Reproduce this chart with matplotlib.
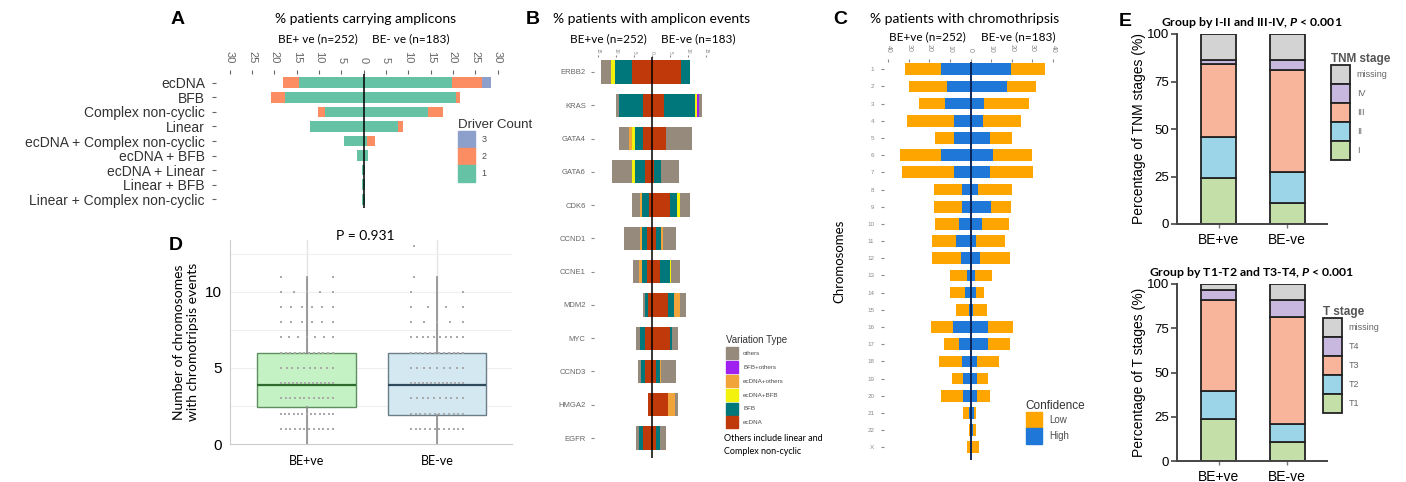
import matplotlib.pyplot as plt
import matplotlib.patches as mpatches
import numpy as np

plt.rcParams['font.family'] = ['Liberation Sans', 'DejaVu Sans']
plt.rcParams['mathtext.fontset'] = 'custom'
plt.rcParams['mathtext.it'] = 'Lato:italic:bold'
plt.rcParams['mathtext.rm'] = 'Lato:bold'

W, H = 1406, 482

# ---- Panel A: % patients carrying amplicons ----
amp_types = ["ecDNA", "BFB", "Complex non-cyclic", "Linear", "ecDNA + Complex non-cyclic",
             "ecDNA + BFB", "ecDNA + Linear", "Linear + BFB", "Linear + Complex non-cyclic"]
driver_levels = ["1", "2", "3"]
amp_pos_1 = [14.4, 17.6, 8.7, 12.1, 4.3, 1.6, 0.3, 0.3, 0.3]
amp_pos_2 = [3.6, 3.1, 1.5, 0, 0, 0, 0, 0, 0]
amp_pos_3 = [0, 0, 0, 0, 0, 0, 0, 0, 0]
amp_neg_1 = [19.7, 20.7, 14.4, 7.6, 0.8, 1.0, 0.4, 0.4, 0.4]
amp_neg_2 = [6.8, 0.8, 3.3, 1.3, 1.8, 0, 0, 0, 0]
amp_neg_3 = [2.0, 0, 0, 0, 0, 0, 0, 0, 0]

# ---- Panel B: % patients with amplicon events (per gene) ----
genes = ["ERBB2", "KRAS", "GATA4", "GATA6", "CDK6", "CCND1", "CCNE1", "MDM2", "MYC", "CCND3", "HMGA2", "EGFR"]
var_types = ["ecDNA", "BFB", "ecDNA+BFB", "ecDNA+others", "BFB+others", "others"]
b_pos_ecdna = [5.6, 2.4, 2.6, 1.85, 0.8, 1.4, 1.4, 1.1, 2.0, 2.0, 1.1, 2.5]
b_pos_bfb = [4.6, 6.7, 2.1, 2.8, 1.9, 1.3, 1.4, 0.9, 1.4, 0.9, 0, 1.1]
b_pos_ecdna_bfb = [1.2, 0, 0.75, 0.9, 0, 0, 0, 0, 0, 0, 0, 0]
b_pos_ecdna_oth = [0, 0, 0.9, 0, 0.65, 0.55, 0.65, 0, 0, 0, 0, 0]
b_pos_bfb_oth = [0, 0, 0, 0, 0, 0, 0, 0, 0, 0, 0, 0]
b_pos_others = [2.7, 0.7, 2.8, 5.4, 2.3, 4.5, 1.85, 0.45, 1.1, 1.1, 0, 0.9]
b_neg_ecdna = [8.0, 3.3, 3.9, 0.65, 4.9, 1.2, 2.1, 4.4, 4.9, 1.2, 4.4, 1.2]
b_neg_bfb = [2.4, 8.6, 0, 1.7, 2.0, 1.4, 2.8, 1.6, 0.75, 0.9, 0, 0.9]
b_neg_ecdna_bfb = [0, 0.5, 0, 0, 0.7, 0, 0.45, 0, 0, 0, 0, 0]
b_neg_ecdna_oth = [0, 0, 0, 0, 0, 0.45, 0, 1.85, 0, 0.45, 1.85, 0]
b_neg_bfb_oth = [0, 0.7, 0, 0, 0, 0, 0, 0, 0, 0, 0, 0]
b_neg_others = [0, 0.7, 7.1, 5.1, 2.8, 3.5, 2.3, 1.65, 1.6, 4.0, 0.9, 1.65]

# ---- Panel C: % patients with chromothripsis ----
chroms = [str(i) for i in range(1, 23)] + ["X"]
c_pos_high = [14.1, 11.2, 12.5, 7.9, 7.9, 14.1, 7.9, 3.9, 3.9, 5.7, 6.8, 4.4, 1.9, 2.75, 0.8, 8.4, 5.7, 3.9, 3.6, 3.6, 0.8, 0.3, 0.3]
c_pos_low = [17.8, 18.6, 12.6, 22.8, 9.4, 20.2, 25.6, 13.9, 13.9, 11.6, 11.8, 14.2, 8.1, 7.25, 6.0, 10.9, 7.2, 11.3, 5.6, 10.5, 2.8, 0.2, 1.6]
c_neg_high = [19.9, 17.5, 6.6, 6.1, 9.4, 10.7, 9.7, 3.7, 9.9, 5.7, 2.6, 4.7, 2.4, 2.9, 1.3, 8.6, 8.6, 3.2, 3.2, 3.2, 1.6, 1.0, 0.2]
c_neg_low = [16.2, 14.1, 21.9, 18.2, 10.8, 19.2, 20.7, 16.5, 9.7, 12.9, 14.1, 14.7, 7.8, 3.7, 6.8, 11.8, 10.8, 10.6, 5.1, 6.5, 1.3, 1.6, 4.0]

# ---- Panel D: chromosomes with chromothripsis events ----
d_groups = ["BE+ve", "BE-ve"]
d_q1 = [2.4, 1.9]
d_med = [3.9, 3.9]
d_q3 = [6.0, 6.0]
d_whislo = [0.0, 0.0]
d_whishi = [11.0, 11.0]
d_levels = [1, 2, 3, 4, 5, 6, 7, 8, 9, 10, 11, 13]
d_pos_counts = [12, 13, 12, 14, 10, 12, 7, 6, 6, 5, 2, 0]
d_neg_counts = [12, 12, 10, 14, 9, 12, 10, 5, 4, 2, 1, 1]
d_pvalue = "P = 0.931"

# ---- Panel E: stage distribution ----
e_groups = ["BE+ve", "BE-ve"]
tnm_stages = ["I", "II", "III", "IV", "missing"]
tnm_pos = [24.1, 21.8, 38.3, 2.1, 13.7]
tnm_neg = [11.2, 16.4, 53.2, 5.5, 13.7]
t_stages = ["T1", "T2", "T3", "T4", "missing"]
t_pos = [24.0, 15.7, 51.0, 5.7, 3.6]
t_neg = [11.0, 9.8, 60.8, 9.1, 9.3]


def px_axes(fig, x0, y0, x1, y1):
    return fig.add_axes([x0 / W, 1 - y1 / H, (x1 - x0) / W, (y1 - y0) / H])


def ftext(fig, x, y, s, **kw):
    fig.text(x / W, 1 - y / H, s, **kw)


def butterfly(ax, ypos, pos_list, neg_list, colors, height):
    lc = np.zeros(len(ypos))
    rc = np.zeros(len(ypos))
    for p, n, c in zip(pos_list, neg_list, colors):
        p = np.asarray(p, float)
        n = np.asarray(n, float)
        ax.barh(ypos, -p, left=-lc, height=height, color=c, lw=0)
        ax.barh(ypos, n, left=rc, height=height, color=c, lw=0)
        lc += p
        rc += n
    ax.axvline(0, color="black", lw=1.1, zorder=5)
    for s in ax.spines.values():
        s.set_visible(False)
    ax.xaxis.tick_top()


def square_legend(handles, title, xy, fs, tfs, side_px, gap=0.0):
    # handleheight chosen so the drawn patch is about side_px tall
    fs_px = fs / 72 * 100
    hh = (side_px / fs_px - 0.245) / 0.65
    leg = fig.legend(handles=handles, title=title, loc="upper left",
                     bbox_to_anchor=(xy[0] / W, 1 - xy[1] / H), frameon=False,
                     fontsize=fs, title_fontsize=tfs, handlelength=side_px / fs_px,
                     handleheight=hh, labelspacing=gap, borderpad=0, handletextpad=0.8)
    leg._legend_box.align = "left"
    return leg


fig = plt.figure(figsize=(14.06, 4.82), dpi=100)
gray_txt = "#4D4D4D"

# ================= Panel A =================
axA = px_axes(fig, 216, 74, 502, 208)
yA = np.arange(len(amp_types))
colA = ["#66C2A5", "#FC8D62", "#8DA0CB"]
butterfly(axA, yA, [amp_pos_1, amp_pos_2, amp_pos_3], [amp_neg_1, amp_neg_2, amp_neg_3], colA, 0.72)
axA.set_xlim(-33.1, 31)
axA.set_ylim(8.6, -0.6)
ticksA = np.arange(-30, 31, 5)
axA.set_xticks(ticksA)
axA.set_xticklabels([str(abs(t)) for t in ticksA], rotation=-90, fontsize=8, color="#666666")
axA.set_yticks(yA)
axA.set_yticklabels(amp_types, fontsize=10, color="#333333")
axA.tick_params(length=3, color="#666666", pad=5)
legA = square_legend([mpatches.Patch(color=colA[i], label=driver_levels[i]) for i in [2, 1, 0]],
                     "Driver Count", (453, 114), 6.5, 9.5, 17)
for t in legA.get_texts():
    t.set_color(gray_txt)
legA.get_title().set_color("#333333")

ftext(fig, 178, 20, "A", fontsize=14, fontweight="bold", ha="center", va="center")
ftext(fig, 366, 19, "% patients carrying amplicons", fontsize=10, family="Lato", ha="center", va="center")
ftext(fig, 358, 39, "BE+ ve (n=252)", fontsize=8.5, family="Lato", ha="right", va="center")
ftext(fig, 372, 39, "BE- ve (n=183)", fontsize=8.5, family="Lato", ha="left", va="center")

# ================= Panel B =================
axB = px_axes(fig, 594, 57, 710, 458)
yB = np.arange(len(genes))
colB = ["#C0390B", "#00777B", "#F2F20C", "#F0A43A", "#A020F0", "#968A7C"]
butterfly(axB, yB,
          [b_pos_ecdna, b_pos_bfb, b_pos_ecdna_bfb, b_pos_ecdna_oth, b_pos_bfb_oth, b_pos_others],
          [b_neg_ecdna, b_neg_bfb, b_neg_ecdna_bfb, b_neg_ecdna_oth, b_neg_bfb_oth, b_neg_others],
          colB, 0.7)
axB.set_xlim(-16, 16)
axB.set_ylim(11.6, -0.45)
ticksB = np.arange(-15, 16, 5)
axB.set_xticks(ticksB)
axB.set_xticklabels([str(abs(t)) for t in ticksB], rotation=-90, fontsize=3.5, color="#888888")
axB.tick_params(axis="x", length=1.5, pad=1)
axB.set_yticks(yB)
axB.set_yticklabels(genes, fontsize=5.5, color="#666666")
axB.tick_params(axis="y", length=2, pad=4)
axB.tick_params(color="#888888")
order = [5, 4, 3, 2, 1, 0]
legB = square_legend([mpatches.Patch(color=colB[i], label=var_types[i]) for i in order],
                     "Variation Type", (723, 332), 4.5, 7, 12, gap=0.3)
for t in legB.get_texts():
    t.set_color(gray_txt)
legB.get_title().set_color("#333333")
ftext(fig, 724, 445, "Others include linear and\nComplex non-cyclic", fontsize=6.5, family="Lato",
      ha="left", va="center", linespacing=1.5)

ftext(fig, 533, 20, "B", fontsize=14, fontweight="bold", ha="center", va="center")
ftext(fig, 652, 19, "% patients with amplicon events", fontsize=10, family="Lato", ha="center", va="center")
ftext(fig, 647, 39, "BE+ve (n=252)", fontsize=8.5, family="Lato", ha="right", va="center")
ftext(fig, 661, 39, "BE-ve (n=183)", fontsize=8.5, family="Lato", ha="left", va="center")

# ================= Panel C =================
axC = px_axes(fig, 884, 62, 1057, 460)
yC = np.arange(len(chroms))
colC = ["#1F78D8", "#FFA500"]
butterfly(axC, yC, [c_pos_high, c_pos_low], [c_neg_high, c_neg_low], colC, 0.68)
axC.axvline(0, color="#0A2A6A", lw=1.1, zorder=5)
axC.set_xlim(-42, 42)
axC.set_ylim(22.74, -0.42)
ticksC = np.arange(-40, 41, 10)
axC.set_xticks(ticksC)
axC.set_xticklabels([str(abs(t)) for t in ticksC], rotation=-90, fontsize=5, color="#888888")
axC.set_yticks(yC)
axC.set_yticklabels(chroms, fontsize=4.5, color="#888888")
axC.tick_params(length=2, color="#888888", pad=5)
axC.set_ylabel("Chromosomes", fontsize=9.5, family="Lato", labelpad=16)
legC = square_legend([mpatches.Patch(color=colC[1], label="Low"), mpatches.Patch(color=colC[0], label="High")],
                     "Confidence", (1021, 395), 7, 8.5, 16)
for t in legC.get_texts():
    t.set_color(gray_txt)
legC.get_title().set_color("#333333")

ftext(fig, 840, 20, "C", fontsize=14, fontweight="bold", ha="center", va="center")
ftext(fig, 965, 19, "% patients with chromothripsis", fontsize=10, family="Lato", ha="center", va="center")
ftext(fig, 966, 37, "BE+ve (n=252)", fontsize=8.5, family="Lato", ha="right", va="center")
ftext(fig, 981, 37, "BE-ve (n=183)", fontsize=8.5, family="Lato", ha="left", va="center")

# ================= Panel D =================
axD = px_axes(fig, 230, 240, 512, 444)
stats = []
for i in range(2):
    stats.append(dict(med=d_med[i], q1=d_q1[i], q3=d_q3[i], whislo=d_whislo[i], whishi=d_whishi[i], fliers=[]))
for x in [0, 1]:
    axD.axvline(x, color="#E4E4E4", lw=1, zorder=0)
for yv in np.arange(0, 13.5, 2.5):
    axD.axhline(yv, color="#EFEFEF", lw=0.8, zorder=0)
bp = axD.bxp(stats, positions=[0, 1], widths=0.76, patch_artist=True, showcaps=False,
             whiskerprops=dict(color="#8C8C8C", lw=1.2),
             medianprops=dict(lw=1.6), boxprops=dict(lw=1))
box_face = ["#C4F2C4", "#D4E8F1"]
box_edge = ["#5E8F5E", "#6A7E8A"]
med_col = ["#2E6B2E", "#2F4A5A"]
for i in range(2):
    bp["boxes"][i].set_facecolor(box_face[i])
    bp["boxes"][i].set_edgecolor(box_edge[i])
    bp["medians"][i].set_color(med_col[i])
for xc, counts in [(0, d_pos_counts), (1, d_neg_counts)]:
    for val, n in zip(d_levels, counts):
        if n == 0:
            continue
        xs = xc + (np.linspace(-0.2, 0.2, n) if n > 1 else np.array([-0.18]))
        axD.scatter(xs, [val] * n, s=4, marker="s", color="#AAAAAA", lw=0, zorder=4)
axD.set_xlim(-0.59, 1.576)
axD.set_ylim(0, 13.4)
axD.set_yticks([0, 5, 10])
axD.set_xticks([0, 1])
axD.set_xticklabels(d_groups, fontsize=9, family="Lato")
axD.tick_params(axis="y", labelsize=11, length=0, pad=6)
axD.tick_params(axis="x", length=0, pad=8)
for s in ["top", "right"]:
    axD.spines[s].set_visible(False)
for s in ["left", "bottom"]:
    axD.spines[s].set_color("#CCCCCC")
axD.set_ylabel("Number of chromosomes\nwith chromotripsis events", fontsize=10, family="Lato", labelpad=4)
ftext(fig, 176, 245, "D", fontsize=14, fontweight="bold", ha="center", va="center")
ftext(fig, 365, 236, d_pvalue, fontsize=10, family="Lato", ha="center", va="center")

# ================= Panel E =================
colE = ["#C5DFA8", "#9CD5E8", "#F8B59B", "#C8B8DF", "#D3D3D3"]


def stage_bars(ax, pos, neg, labels, title, legend_title, leg_xy):
    bottoms = np.zeros(2)
    for k in range(len(labels)):
        vals = np.array([pos[k], neg[k]])
        ax.bar([0, 1], vals, bottom=bottoms, width=0.51, color=colE[k], edgecolor="#222222", lw=1.3)
        bottoms += vals
    ax.set_xlim(-0.61, 1.58)
    ax.set_ylim(0, 100)
    ax.set_yticks([0, 25, 50, 75, 100])
    ax.set_xticks([0, 1])
    ax.set_xticklabels(e_groups, fontsize=10)
    ax.tick_params(axis="y", labelsize=9.5, length=4, width=1.2, color="#444444", pad=1.5)
    ax.tick_params(axis="x", length=3, width=1, color="#777777")
    for s in ["top", "right"]:
        ax.spines[s].set_visible(False)
    for s in ["left", "bottom"]:
        ax.spines[s].set_linewidth(1.4)
        ax.spines[s].set_color("#444444")
    ax.set_title(title, fontsize=8.8, family="Lato", fontweight="bold", pad=6)
    leg = square_legend([mpatches.Patch(facecolor=colE[k], edgecolor="#222222", lw=1.3, label=labels[k])
                         for k in range(len(labels) - 1, -1, -1)],
                        legend_title, leg_xy, 6.5, 8.5, 19)
    leg.get_title().set_fontweight("bold")
    leg.get_title().set_color("#555555")
    for t in leg.get_texts():
        t.set_color("#666666")


axE1 = px_axes(fig, 1177, 34, 1327, 224)
stage_bars(axE1, tnm_pos, tnm_neg, tnm_stages, r"Group by I-II and III-IV, $P$ < 0.001",
           "TNM stage", (1326, 48))
axE1.set_ylabel("Percentage of TNM stages (%)", fontsize=10, labelpad=1)
axE2 = px_axes(fig, 1177, 284, 1327, 461)
stage_bars(axE2, t_pos, t_neg, t_stages, r"Group by T1-T2 and T3-T4, $P$ < 0.001",
           "T stage", (1318, 301))
axE2.set_ylabel("Percentage of T stages (%)", fontsize=10, labelpad=1)
ftext(fig, 1125, 22, "E", fontsize=14, fontweight="bold", ha="center", va="center")

fig.savefig("out.png", dpi=100)
